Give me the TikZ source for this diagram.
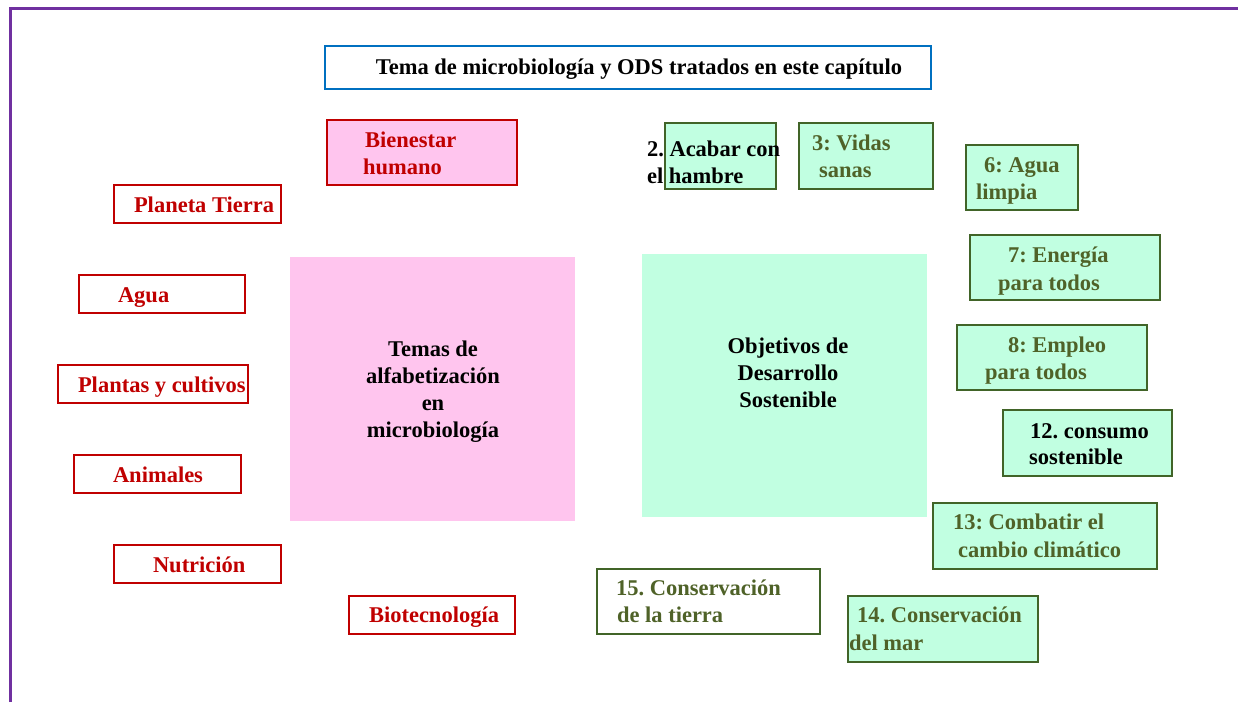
\documentclass[tikz,border=0pt]{standalone}
\usepackage{fontspec}
\setmainfont{Liberation Serif}
\frenchspacing
\definecolor{framepurple}{RGB}{112,48,160}
\definecolor{titleblue}{RGB}{0,112,192}
\definecolor{darkred}{RGB}{192,0,0}
\definecolor{pinkfill}{RGB}{255,197,238}
\definecolor{mintfill}{RGB}{193,255,225}
\definecolor{sdggreen}{RGB}{79,98,40}
\definecolor{sdgborder}{RGB}{65,100,40}
\newcommand{\bx}[6]{%
  \pgfmathsetmacro{\bw}{#4-#2}\pgfmathsetmacro{\bh}{#5-#3}%
  \node[#6, minimum width=\bw pt, minimum height=\bh pt] (#1) at ({(#2+#4)/2},{(#3+#5)/2}) {};}
\newcommand{\tx}[5]{\node[txt, text=#5] (#1) at (#2,#3) {#4};}
\begin{document}
\begin{tikzpicture}[x=1pt,y=-1pt,
  every node/.style={inner sep=0pt, outer sep=0pt},
  txt/.style={anchor=base west, font=\fontsize{22.5}{27}\selectfont\bfseries},
  redbox/.style={draw=darkred, line width=1.6pt, fill=white},
  pinkbox/.style={draw=darkred, line width=1.6pt, fill=pinkfill},
  greenbox/.style={draw=sdgborder, line width=1.8pt, fill=mintfill},
  whitegreenbox/.style={draw=sdgborder, line width=1.8pt, fill=white},
  bigpink/.style={fill=pinkfill},
  bigmint/.style={fill=mintfill},
  titlebox/.style={draw=titleblue, line width=1.6pt, fill=white}]
\useasboundingbox (0,0) rectangle (1238,702);
% frame
\coordinate (fa) at (10.3,702);
\coordinate (fb) at (10.3,8.7);
\coordinate (fc) at (1238,8.7);
\draw[framepurple, line width=2.7pt] (fa) -- (fb) -- (fc);
% title
\bx{title}{325}{46}{931}{89}{titlebox}
\node[font=\fontsize{22.5}{27}\selectfont\bfseries, anchor=base] (titletext) at (639,74.5) {Tema de microbiología y ODS tratados en este capítulo};
% big boxes
\bx{micro}{290}{257}{575}{521}{bigpink}
\node[font=\fontsize{22.5}{27}\selectfont\bfseries, align=center, anchor=north] (microtext) at (433,341) {Temas de\\alfabetización\\en\\microbiología};
\bx{ods}{642}{254}{927}{517}{bigmint}
\node[font=\fontsize{22.5}{27}\selectfont\bfseries, align=center, anchor=north] (odstext) at (788,338) {Objetivos de\\Desarrollo\\Sostenible};
% left topics
\bx{bien}{327}{120}{517}{185}{pinkbox}
\tx{bienA}{365}{147.5}{Bienestar}{darkred}
\tx{bienB}{363}{174.5}{humano}{darkred}
\bx{plan}{114}{185}{281}{223}{redbox}
\tx{planA}{134}{212.5}{Planeta Tierra}{darkred}
\bx{agua}{79}{275}{245}{313}{redbox}
\tx{aguaA}{118}{302}{Agua}{darkred}
\bx{plant}{58}{365}{248}{403}{redbox}
\tx{plantA}{78}{392}{Plantas y cultivos}{darkred}
\bx{anim}{74}{455}{241}{493}{redbox}
\tx{animA}{113}{482}{Animales}{darkred}
\bx{nutr}{114}{545}{281}{583}{redbox}
\tx{nutrA}{153}{572}{Nutrición}{darkred}
\bx{biot}{349}{596}{515}{634}{redbox}
\tx{biotA}{369}{622.5}{Biotecnología}{darkred}
% SDG boxes
\bx{s2}{665}{123}{776}{189}{greenbox}
\tx{s2A}{647}{156.5}{2. Acabar con}{black}
\tx{s2B}{647}{183.5}{el hambre}{black}
\bx{s3}{799}{123}{933}{189}{greenbox}
\tx{s3A}{812}{150.5}{3: Vidas}{sdggreen}
\tx{s3B}{819}{177.5}{sanas}{sdggreen}
\bx{s6}{966}{145}{1078}{210}{greenbox}
\tx{s6A}{984}{172.5}{6: Agua}{sdggreen}
\tx{s6B}{976}{199.5}{limpia}{sdggreen}
\bx{s7}{970}{235}{1160}{300}{greenbox}
\tx{s7A}{1008}{262.5}{7: Energía}{sdggreen}
\tx{s7B}{998}{290}{para todos}{sdggreen}
\bx{s8}{957}{325}{1147}{390}{greenbox}
\tx{s8A}{1008}{352.5}{8: Empleo}{sdggreen}
\tx{s8B}{985}{379.5}{para todos}{sdggreen}
\bx{s12}{1003}{410}{1172}{476}{greenbox}
\tx{s12A}{1030}{438.5}{12. consumo}{black}
\tx{s12B}{1029}{464.5}{sostenible}{black}
\bx{s13}{933}{503}{1157}{569}{greenbox}
\tx{s13A}{953}{529.5}{13: Combatir el}{sdggreen}
\tx{s13B}{958}{557}{cambio climático}{sdggreen}
\bx{s15}{597}{569}{820}{634}{whitegreenbox}
\tx{s15A}{616}{595.5}{15. Conservación}{sdggreen}
\tx{s15B}{617}{622.5}{de la tierra}{sdggreen}
\bx{s14}{848}{596}{1038}{662}{greenbox}
\tx{s14A}{857}{622.5}{14. Conservación}{sdggreen}
\tx{s14B}{849}{650.5}{del mar}{sdggreen}
\end{tikzpicture}
\end{document}
